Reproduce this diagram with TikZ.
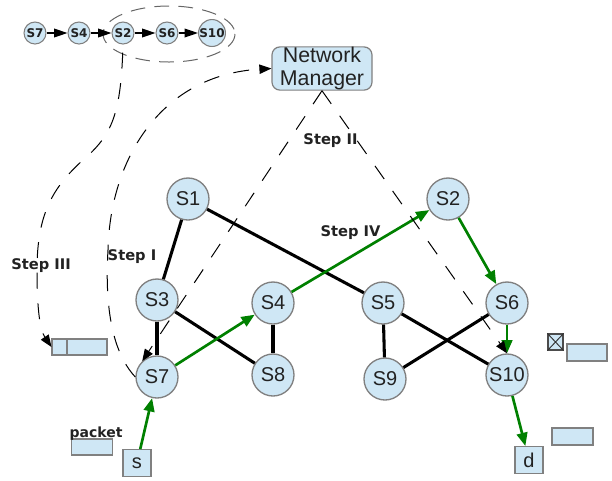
\documentclass[tikz,border=0pt]{standalone}
\usepackage{fontspec}
\setmainfont{Liberation Sans}
\newfontfamily\labfont{DejaVu Sans}
\usetikzlibrary{arrows.meta}
\definecolor{nodefill}{RGB}{207,231,245}
\definecolor{nodeline}{RGB}{128,128,128}
\definecolor{pathgreen}{RGB}{0,128,0}
\definecolor{txt}{RGB}{34,34,34}
\begin{document}
\begin{tikzpicture}[x=0.75pt,y=-0.75pt,
 sw/.style={circle,draw=nodeline,fill=nodefill,line width=1pt,minimum size=31.5pt,inner sep=0pt,font=\fontsize{15}{15}\selectfont,text=txt},
 smallsw/.style={circle,draw=nodeline,fill=nodefill,line width=0.8pt,minimum size=16.5pt,inner sep=0pt,font=\labfont\bfseries\fontsize{9}{9}\selectfont,text=txt},
 hostbox/.style={rectangle,draw=nodeline,fill=nodefill,line width=0.9pt,minimum width=21pt,minimum height=20pt,inner sep=0pt,font=\fontsize{15}{15}\selectfont,text=txt},
 blankbox/.style={rectangle,draw=nodeline,fill=nodefill,line width=0.8pt,inner sep=0pt},
 steplabel/.style={font=\labfont\bfseries\fontsize{11}{11}\selectfont,text=txt,inner sep=0pt,anchor=base},
 link/.style={line width=2.3pt,black},
 route/.style={line width=2pt,pathgreen,-{Triangle[length=10pt,width=8pt]}},
 ctrl/.style={line width=0.75pt,dash pattern=on 12pt off 11pt,-{Triangle[length=9pt,width=7pt]}},
 chainarrow/.style={line width=1pt,-{Triangle[length=10pt,width=6.5pt]}},
]
\useasboundingbox (0,0) rectangle (612,480);

% top chain
\draw[line width=0.75pt,draw=gray!80!black,dash pattern=on 11pt off 7pt] (169,34) ellipse [x radius=66, y radius=28];
\node[smallsw] (cS7) at (35,33) {S7};
\node[smallsw] (cS4) at (79,33) {S4};
\node[smallsw] (cS2) at (123,33) {S2};
\node[smallsw] (cS6) at (167,33) {S6};
\node[smallsw] (cS10) at (212,33) {S10};
\draw[chainarrow] (cS7) -- (cS4);
\draw[chainarrow] (cS4) -- (cS2);
\draw[chainarrow] (cS2) -- (cS6);
\draw[chainarrow] (cS6) -- (cS10);

% network manager
\node[rectangle,rounded corners=6pt,draw=nodeline,fill=nodefill,line width=0.9pt,minimum width=75pt,minimum height=32pt,inner sep=0pt,align=center,text=txt,font=\fontsize{16}{17.5}\selectfont] (NM) at (322,68.5) {Network\\Manager};

% switches
\node[sw] (S1) at (188,199) {S1};
\node[sw] (S2) at (448,199) {S2};
\node[sw] (S3) at (157,300) {S3};
\node[sw] (S4) at (273,303) {S4};
\node[sw] (S5) at (383,303) {S5};
\node[sw] (S6) at (507,303) {S6};
\node[sw] (S7) at (157,377) {S7};
\node[sw] (S8) at (273,375) {S8};
\node[sw] (S9) at (385,379) {S9};
\node[sw] (S10) at (507,375) {S10};

% hosts
\node[hostbox] (s) at (137,463) {s};
\node[hostbox] (d) at (529,460) {d};

% boxes
\node[blankbox,minimum width=11.25pt,minimum height=12pt] (b3a) at (59.5,347) {};
\node[blankbox,minimum width=30pt,minimum height=12pt] (b3b) at (87,347) {};
\node[blankbox,minimum width=30.75pt,minimum height=12pt] (pbox) at (92,447) {};
\node[blankbox,draw=gray!60!black,minimum width=11.25pt,minimum height=12pt] (xbox) at (555.5,342) {};
\draw[line width=0.7pt,gray!40!black] (xbox.north west) -- (xbox.south east) (xbox.north east) -- (xbox.south west);
\node[blankbox,minimum width=30pt,minimum height=12.75pt] (rb1) at (587,352.5) {};
\node[blankbox,minimum width=30.75pt,minimum height=12.75pt] (rb2) at (572.5,436.5) {};

% links
\draw[link] (S1) -- (S3);
\draw[link] (S1) -- (S5);
\draw[link] (S3) -- (S7);
\draw[link] (S3) -- (S8);
\draw[link] (S4) -- (S8);
\draw[link] (S5) -- (S9);
\draw[link] (S5) -- (S10);
\draw[link] (S6) -- (S9);

% route
\draw[route] (s) -- (S7);
\draw[route] (S7) -- (S4);
\draw[route] (S4) -- (S2);
\draw[route] (S2) -- (S6);
\draw[route] (S6) -- (S10);
\draw[route] (S10) -- (d);

% control messages
\draw[ctrl,dash phase=17pt] (cS2.south) .. controls (121,115) and (112,135) .. (83,160) .. controls (52,188) and (37,215) .. (37,270) .. controls (37,310) and (40,330) .. (b3a.west);
\draw[ctrl] (S7.west) .. controls (110,350) and (105,300) .. (108,250) .. controls (110,160) and (160,75) .. (NM.west);
\draw[ctrl] (NM.south) -- (S7.133);
\draw[ctrl] (NM.south) -- (S10.north);

% labels
\node[steplabel] (l1) at (132,260) {Step I};
\node[steplabel] (l2) at (330.5,144) {Step II};
\node[steplabel] (l3) at (41,269) {Step III};
\node[steplabel] (l4) at (350.5,236) {Step IV};
\node[steplabel,font=\labfont\bfseries\fontsize{10.5}{10.5}\selectfont] (lp) at (96,437) {packet};
\end{tikzpicture}
\end{document}
